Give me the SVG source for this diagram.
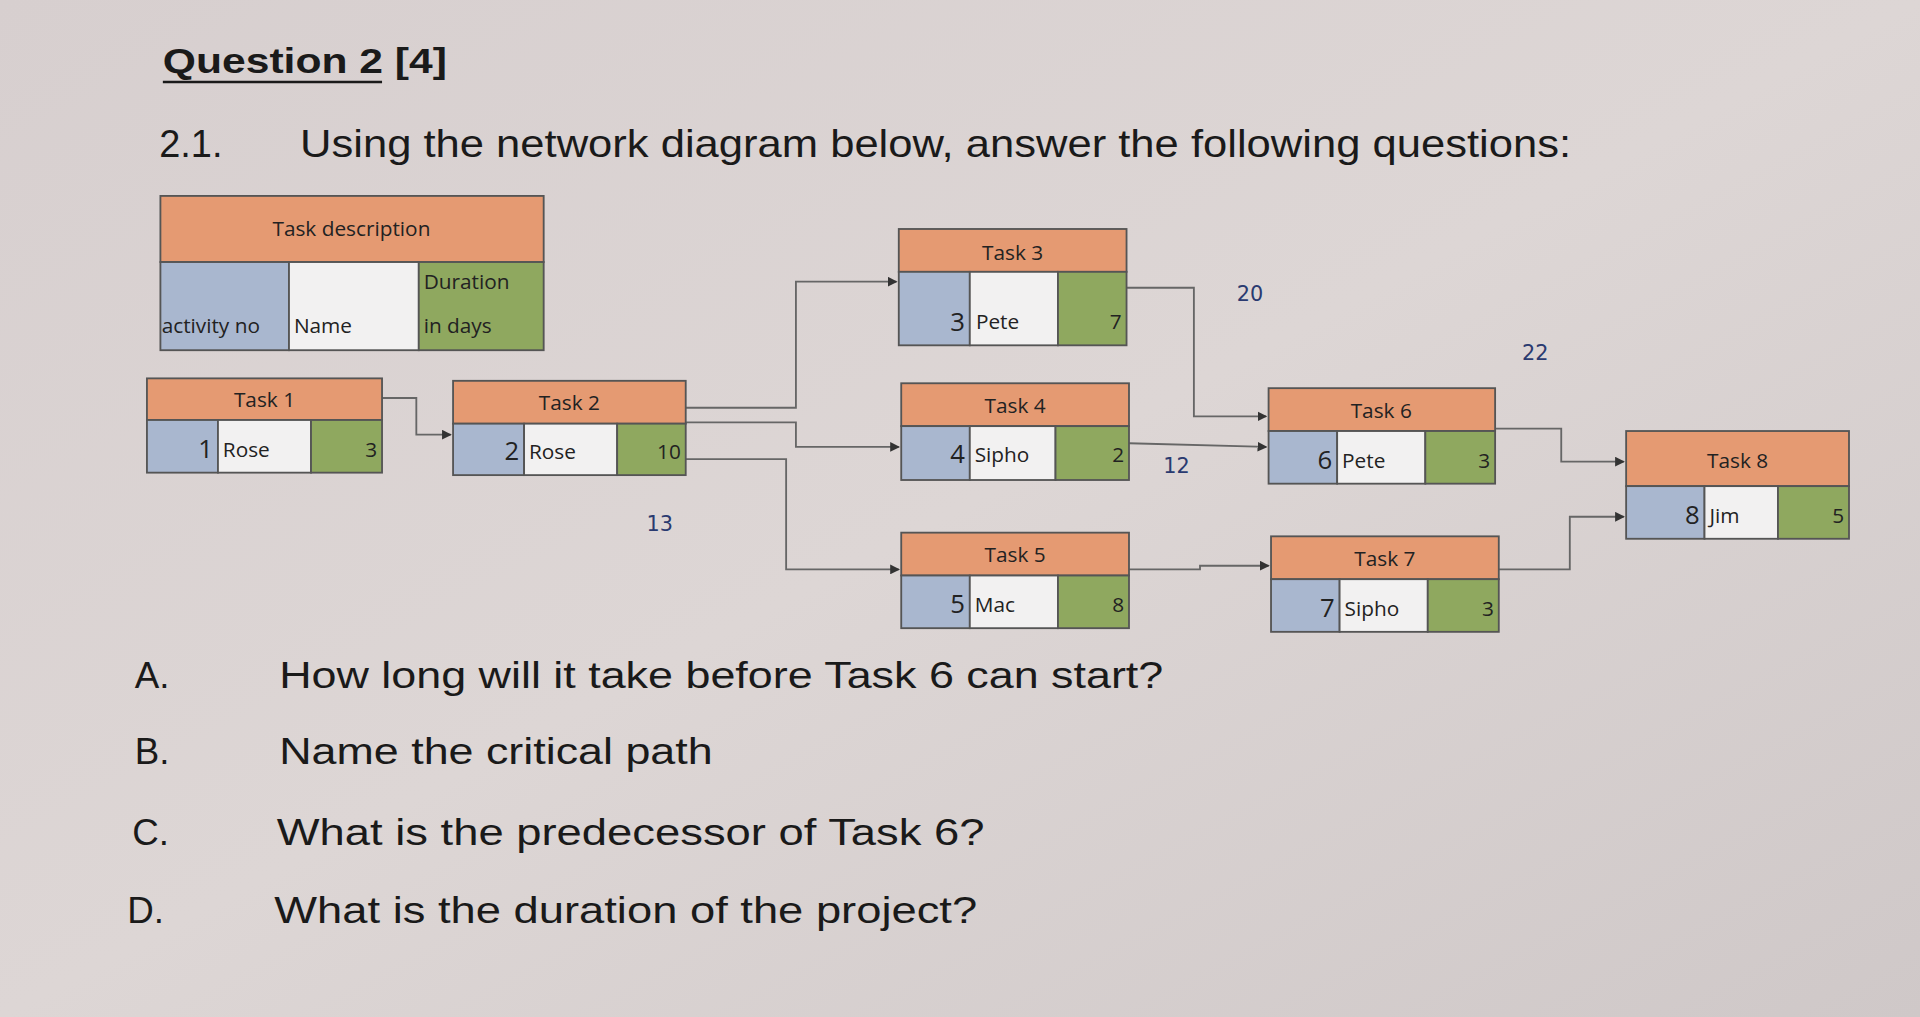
<svg xmlns="http://www.w3.org/2000/svg" width="1920" height="1017" viewBox="0 0 1920 1017">
<defs>
<style>
.t{font-family:"Liberation Sans",Arial,sans-serif;fill:#1a1a1a}
.s{font-family:"Open Sans","DejaVu Sans",sans-serif;fill:#222;font-size:17px}
.n{font-family:"Open Sans","DejaVu Sans",sans-serif;fill:#222;font-size:21px}
.h{fill:#e59a72;stroke:#555;stroke-width:1.5}
.b{fill:#a9b7cf;stroke:#555;stroke-width:1.5}
.w{fill:#f2f1f1;stroke:#555;stroke-width:1.5}
.g{fill:#8fa85f;stroke:#555;stroke-width:1.5}
.c{fill:none;stroke:#666;stroke-width:1.5}
.hw{font-family:"DejaVu Sans",sans-serif;fill:#2a3a70;font-size:17px}
</style>
<marker id="a" markerWidth="8" markerHeight="8" refX="7" refY="4" orient="auto" markerUnits="userSpaceOnUse"><path d="M0,0 L8,4 L0,8 z" fill="#333"/></marker>
<linearGradient id="bg" x1="0" y1="0" x2="1" y2="1"><stop offset="0" stop-color="#d7cfcf"/><stop offset="0.5" stop-color="#ddd6d5"/><stop offset="1" stop-color="#cfc8c8"/></linearGradient>
</defs>
<rect width="1920" height="1017" fill="url(#bg)"/>
<g transform="scale(1.2245)">
<text class="t" x="133" y="60" font-size="29" font-weight="bold" textLength="232" lengthAdjust="spacingAndGlyphs">Question 2 [4]</text>
<line x1="133" y1="67" x2="312" y2="67" stroke="#1a1a1a" stroke-width="2"/>
<text class="t" x="130" y="128" font-size="31">2.1.</text>
<text class="t" x="245" y="128" font-size="31" textLength="1038" lengthAdjust="spacingAndGlyphs">Using the network diagram below, answer the following questions:</text>

<g id="legend">
<rect class="h" x="131" y="160" width="313" height="54"/>
<text class="s" x="287" y="193" text-anchor="middle">Task description</text>
<rect class="b" x="131" y="214" width="105" height="72"/>
<rect class="w" x="236" y="214" width="106" height="72"/>
<rect class="g" x="342" y="214" width="102" height="72"/>
<text class="s" x="132" y="272" font-size="16">activity no</text>
<text class="s" x="240" y="272" font-size="16">Name</text>
<text class="s" x="346" y="236">Duration</text>
<text class="s" x="346" y="272">in days</text>
</g>

<g id="connectors">
<polyline class="c" points="312,325 340,325 340,355 368,355" marker-end="url(#a)"/>
<polyline class="c" points="560,333 650,333 650,230 732,230" marker-end="url(#a)"/>
<polyline class="c" points="560,345 650,345 650,365 734,365" marker-end="url(#a)"/>
<polyline class="c" points="560,375 642,375 642,465 734,465" marker-end="url(#a)"/>
<polyline class="c" points="920,235 975,235 975,340 1034,340" marker-end="url(#a)"/>
<polyline class="c" points="922,362 1034,365" marker-end="url(#a)"/>
<polyline class="c" points="922,465 980,465 980,462 1036,462" marker-end="url(#a)"/>
<polyline class="c" points="1221,350 1275,350 1275,377 1326,377" marker-end="url(#a)"/>
<polyline class="c" points="1224,465 1282,465 1282,422 1326,422" marker-end="url(#a)"/>
</g>

<g id="task1"><rect class="h" x="120" y="309" width="192" height="34"/><text class="s" x="216" y="332" text-anchor="middle">Task 1</text>
<rect class="b" x="120" y="343" width="58" height="43"/><rect class="w" x="178" y="343" width="76" height="43"/><rect class="g" x="254" y="343" width="58" height="43"/>
<text class="n" x="174" y="374" text-anchor="end">1</text><text class="s" x="182" y="373">Rose</text><text class="s" x="308" y="373" text-anchor="end">3</text></g>

<g id="task2"><rect class="h" x="370" y="311" width="190" height="35"/><text class="s" x="465" y="335" text-anchor="middle">Task 2</text>
<rect class="b" x="370" y="346" width="58" height="42"/><rect class="w" x="428" y="346" width="76" height="42"/><rect class="g" x="504" y="346" width="56" height="42"/>
<text class="n" x="424" y="376" text-anchor="end">2</text><text class="s" x="432" y="375">Rose</text><text class="s" x="556" y="375" text-anchor="end">10</text></g>

<g id="task3"><rect class="h" x="734" y="187" width="186" height="35"/><text class="s" x="827" y="212" text-anchor="middle">Task 3</text>
<rect class="b" x="734" y="222" width="58" height="60"/><rect class="w" x="792" y="222" width="72" height="60"/><rect class="g" x="864" y="222" width="56" height="60"/>
<text class="n" x="788" y="270" text-anchor="end">3</text><text class="s" x="797" y="269">Pete</text><text class="s" x="916" y="269" text-anchor="end">7</text></g>

<g id="task4"><rect class="h" x="736" y="313" width="186" height="35"/><text class="s" x="829" y="337" text-anchor="middle">Task 4</text>
<rect class="b" x="736" y="348" width="56" height="44"/><rect class="w" x="792" y="348" width="70" height="44"/><rect class="g" x="862" y="348" width="60" height="44"/>
<text class="n" x="788" y="378" text-anchor="end">4</text><text class="s" x="796" y="377">Sipho</text><text class="s" x="918" y="377" text-anchor="end">2</text></g>

<g id="task5"><rect class="h" x="736" y="435" width="186" height="35"/><text class="s" x="829" y="459" text-anchor="middle">Task 5</text>
<rect class="b" x="736" y="470" width="56" height="43"/><rect class="w" x="792" y="470" width="72" height="43"/><rect class="g" x="864" y="470" width="58" height="43"/>
<text class="n" x="788" y="501" text-anchor="end">5</text><text class="s" x="796" y="500">Mac</text><text class="s" x="918" y="500" text-anchor="end">8</text></g>

<g id="task6"><rect class="h" x="1036" y="317" width="185" height="35"/><text class="s" x="1128" y="341" text-anchor="middle">Task 6</text>
<rect class="b" x="1036" y="352" width="56" height="43"/><rect class="w" x="1092" y="352" width="72" height="43"/><rect class="g" x="1164" y="352" width="57" height="43"/>
<text class="n" x="1088" y="383" text-anchor="end">6</text><text class="s" x="1096" y="382">Pete</text><text class="s" x="1217" y="382" text-anchor="end">3</text></g>

<g id="task7"><rect class="h" x="1038" y="438" width="186" height="35"/><text class="s" x="1131" y="462" text-anchor="middle">Task 7</text>
<rect class="b" x="1038" y="473" width="56" height="43"/><rect class="w" x="1094" y="473" width="72" height="43"/><rect class="g" x="1166" y="473" width="58" height="43"/>
<text class="n" x="1090" y="504" text-anchor="end">7</text><text class="s" x="1098" y="503">Sipho</text><text class="s" x="1220" y="503" text-anchor="end">3</text></g>

<g id="task8"><rect class="h" x="1328" y="352" width="182" height="45"/><text class="s" x="1419" y="382" text-anchor="middle">Task 8</text>
<rect class="b" x="1328" y="397" width="64" height="43"/><rect class="w" x="1392" y="397" width="60" height="43"/><rect class="g" x="1452" y="397" width="58" height="43"/>
<text class="n" x="1388" y="428" text-anchor="end">8</text><text class="s" x="1396" y="427">Jim</text><text class="s" x="1506" y="427" text-anchor="end">5</text></g>

<text class="hw" x="1010" y="246">20</text>
<text class="hw" x="1243" y="294">22</text>
<text class="hw" x="950" y="386">12</text>
<text class="hw" x="528" y="434">13</text>

<text class="t" x="110" y="562" font-size="30">A.</text><text class="t" x="228" y="562" font-size="30" textLength="722" lengthAdjust="spacingAndGlyphs">How long will it take before Task 6 can start?</text>
<text class="t" x="110" y="624" font-size="30">B.</text><text class="t" x="228" y="624" font-size="30" textLength="354" lengthAdjust="spacingAndGlyphs">Name the critical path</text>
<text class="t" x="108" y="690" font-size="30">C.</text><text class="t" x="226" y="690" font-size="30" textLength="578" lengthAdjust="spacingAndGlyphs">What is the predecessor of Task 6?</text>
<text class="t" x="104" y="754" font-size="30">D.</text><text class="t" x="224" y="754" font-size="30" textLength="574" lengthAdjust="spacingAndGlyphs">What is the duration of the project?</text>
</g>
</svg>
